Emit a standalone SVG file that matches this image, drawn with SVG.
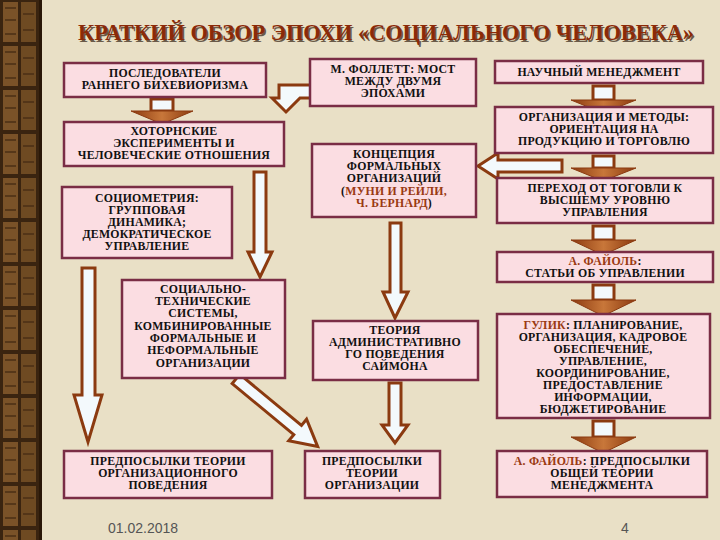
<svg xmlns="http://www.w3.org/2000/svg" width="720" height="540" viewBox="0 0 720 540">
<defs>
<style>
.bg{fill:#e9e0c6}
.box{fill:#fbdde2;stroke:#7a2d45;stroke-width:2.5}
.t{font-family:"Liberation Serif","Times New Roman",serif;font-weight:bold;font-size:11.8px;letter-spacing:0.25px;fill:#111;text-anchor:middle}
.hl{fill:#9a3a12}
.arw{fill:#f3f9fc;stroke:#8b3a10;stroke-width:3;stroke-linejoin:miter}
.head{fill:url(#hg);stroke:#8b3a10;stroke-width:1}
.title{font-family:"Liberation Serif","Times New Roman",serif;font-weight:bold;font-size:22.3px;fill:#8b2a08;text-anchor:middle}
.sh{fill:#6a5a48}
.ft{font-family:"Liberation Sans",Arial,sans-serif;font-size:14px;fill:#555}
</style>
<linearGradient id="hg" x1="0" y1="0" x2="1" y2="0">
<stop offset="0" stop-color="#8b3a10"/>
<stop offset="0.5" stop-color="#c8773a"/>
<stop offset="1" stop-color="#8b3a10"/>
</linearGradient>
<pattern id="wood" width="40" height="44" patternUnits="userSpaceOnUse">
<rect width="40" height="44" fill="#3a2410"/>
<rect x="3" y="2" width="15" height="40" fill="#7a5228"/>
<rect x="21" y="2" width="15" height="40" fill="#6e4a22"/>
<path d="M5 8h11M5 20h11M23 14h11M23 30h11M5 34h11" stroke="#4a2e14" stroke-width="1.5"/>
</pattern>
</defs>
<rect class="bg" width="720" height="540"/>
<rect x="0" y="0" width="39" height="540" fill="url(#wood)"/>
<rect x="39" y="0" width="3" height="540" fill="#2a1808"/>

<text class="title sh" x="387.5" y="41.5">КРАТКИЙ ОБЗОР ЭПОХИ «СОЦИАЛЬНОГО ЧЕЛОВЕКА»</text>
<text class="title" x="386" y="40">КРАТКИЙ ОБЗОР ЭПОХИ «СОЦИАЛЬНОГО ЧЕЛОВЕКА»</text>

<g id="connectors">
<g><rect class="arw" x="151" y="99" width="22" height="12"/><path class="head" d="M131,111 H193 L162,124 Z"/></g>
<path class="arw" d="M311,85 H279 V98 H272 L286,112 L300,98 H311 Z"/>
<g><rect class="arw" x="593" y="86" width="21" height="14"/><path class="head" d="M571,100 H636 L603,113 Z"/></g>
<g><rect class="arw" x="593" y="156" width="21" height="12"/><path class="head" d="M571,168 H636 L603,181 Z"/></g>
<g><rect class="arw" x="593" y="226" width="21" height="14"/><path class="head" d="M571,240 H636 L603,255 Z"/></g>
<g><rect class="arw" x="593" y="285" width="21" height="15"/><path class="head" d="M571,300 H636 L603,316 Z"/></g>
<g><rect class="arw" x="593" y="421" width="21" height="16"/><path class="head" d="M571,437 H636 L603,453 Z"/></g>
<path class="arw" d="M254,172 H266 V252 H272 L260,277 L248,252 H254 Z"/>
<path class="arw" d="M82,268 H95 V395 H102 L88,442 L74,395 H82 Z"/>
<path class="arw" transform="translate(236,379) rotate(39.6)" d="M0,-6 H80 V-14 L106,0 L80,14 V6 H0 Z"/>
<path class="arw" d="M390,223 H401 V292 H408 L395,318 L383,292 H390 Z"/>
<path class="arw" d="M389,383 H401 V425 H408 L395,443 L382,425 H389 Z"/>
<path class="arw" d="M562,160 H498 V153 L478,166 L498,179 V172 H562 Z"/>
</g>

<g id="n1"><rect class="box" x="64" y="63" width="202" height="34"/>
<text class="t"><tspan x="165" y="77">ПОСЛЕДОВАТЕЛИ</tspan><tspan x="165" y="89">РАННЕГО БИХЕВИОРИЗМА</tspan></text></g>
<g id="n2"><rect class="box" x="64" y="122" width="220" height="44"/>
<text class="t"><tspan x="174" y="135">ХОТОРНСКИЕ</tspan><tspan x="174" y="147">ЭКСПЕРИМЕНТЫ И</tspan><tspan x="174" y="159">ЧЕЛОВЕЧЕСКИЕ ОТНОШЕНИЯ</tspan></text></g>
<g id="n3"><rect class="box" x="62" y="187" width="170" height="71"/>
<text class="t"><tspan x="147" y="202">СОЦИОМЕТРИЯ:</tspan><tspan x="147" y="214">ГРУППОВАЯ</tspan><tspan x="147" y="226">ДИНАМИКА;</tspan><tspan x="147" y="238">ДЕМОКРАТИЧЕСКОЕ</tspan><tspan x="147" y="250">УПРАВЛЕНИЕ</tspan></text></g>
<g id="n4"><rect class="box" x="310" y="59" width="166" height="47"/>
<text class="t"><tspan x="393" y="73">М. ФОЛЛЕТТ: МОСТ</tspan><tspan x="393" y="85">МЕЖДУ ДВУМЯ</tspan><tspan x="393" y="97">ЭПОХАМИ</tspan></text></g>
<g id="n5"><rect class="box" x="312" y="144" width="164" height="73"/>
<text class="t"><tspan x="394" y="158">КОНЦЕПЦИЯ</tspan><tspan x="394" y="170">ФОРМАЛЬНЫХ</tspan><tspan x="394" y="182">ОРГАНИЗАЦИЙ</tspan><tspan x="394" y="195">(<tspan class="hl">МУНИ И РЕЙЛИ,</tspan></tspan><tspan x="394" y="207"><tspan class="hl">Ч. БЕРНАРД</tspan>)</tspan></text></g>
<g id="n6"><rect class="box" x="495" y="61" width="208" height="22"/>
<text class="t"><tspan x="599" y="76">НАУЧНЫЙ МЕНЕДЖМЕНТ</tspan></text></g>
<g id="n7"><rect class="box" x="495" y="107" width="218" height="46"/>
<text class="t"><tspan x="604" y="121">ОРГАНИЗАЦИЯ И МЕТОДЫ:</tspan><tspan x="604" y="133">ОРИЕНТАЦИЯ НА</tspan><tspan x="604" y="145">ПРОДУКЦИЮ И ТОРГОВЛЮ</tspan></text></g>
<g id="n8"><rect class="box" x="497" y="178" width="216" height="45"/>
<text class="t"><tspan x="605" y="192">ПЕРЕХОД ОТ ТОГОВЛИ К</tspan><tspan x="605" y="204">ВЫСШЕМУ УРОВНЮ</tspan><tspan x="605" y="216">УПРАВЛЕНИЯ</tspan></text></g>
<g id="n9"><rect class="box" x="497" y="252" width="216" height="30"/>
<text class="t"><tspan x="605" y="265"><tspan class="hl">А. ФАЙОЛЬ</tspan>:</tspan><tspan x="605" y="277">СТАТЬИ ОБ УПРАВЛЕНИИ</tspan></text></g>
<g id="n10"><rect class="box" x="122" y="280" width="163" height="98"/>
<text class="t"><tspan x="203" y="293">СОЦИАЛЬНО-</tspan><tspan x="203" y="305">ТЕХНИЧЕСКИЕ</tspan><tspan x="203" y="317">СИСТЕМЫ,</tspan><tspan x="203" y="330">КОМБИНИРОВАННЫЕ</tspan><tspan x="203" y="342">ФОРМАЛЬНЫЕ И</tspan><tspan x="203" y="354">НЕФОРМАЛЬНЫЕ</tspan><tspan x="203" y="367">ОРГАНИЗАЦИИ</tspan></text></g>
<g id="n11"><rect class="box" x="313" y="321" width="165" height="59"/>
<text class="t"><tspan x="395" y="334">ТЕОРИЯ</tspan><tspan x="395" y="346">АДМИНИСТРАТИВНО</tspan><tspan x="395" y="358">ГО ПОВЕДЕНИЯ</tspan><tspan x="395" y="370">САЙМОНА</tspan></text></g>
<g id="n12"><rect class="box" x="497" y="314" width="213" height="104"/>
<text class="t"><tspan x="603" y="329"><tspan class="hl">ГУЛИК</tspan>: ПЛАНИРОВАНИЕ,</tspan><tspan x="603" y="341">ОРГАНИЗАЦИЯ, КАДРОВОЕ</tspan><tspan x="603" y="353">ОБЕСПЕЧЕНИЕ,</tspan><tspan x="603" y="365">УПРАВЛЕНИЕ,</tspan><tspan x="603" y="377">КООРДИНИРОВАНИЕ,</tspan><tspan x="603" y="389">ПРЕДОСТАВЛЕНИЕ</tspan><tspan x="603" y="401">ИНФОРМАЦИИ,</tspan><tspan x="603" y="413">БЮДЖЕТИРОВАНИЕ</tspan></text></g>
<g id="n13"><rect class="box" x="64" y="451" width="208" height="47"/>
<text class="t"><tspan x="168" y="465">ПРЕДПОСЫЛКИ ТЕОРИИ</tspan><tspan x="168" y="477">ОРГАНИЗАЦИОННОГО</tspan><tspan x="168" y="489">ПОВЕДЕНИЯ</tspan></text></g>
<g id="n14"><rect class="box" x="305" y="451" width="135" height="47"/>
<text class="t"><tspan x="372" y="465">ПРЕДПОСЫЛКИ</tspan><tspan x="372" y="477">ТЕОРИИ</tspan><tspan x="372" y="489">ОРГАНИЗАЦИИ</tspan></text></g>
<g id="n15"><rect class="box" x="497" y="451" width="210" height="46"/>
<text class="t"><tspan x="602" y="465"><tspan class="hl">А. ФАЙОЛЬ</tspan>: ПРЕДПОСЫЛКИ</tspan><tspan x="602" y="477">ОБЩЕЙ ТЕОРИИ</tspan><tspan x="602" y="489">МЕНЕДЖМЕНТА</tspan></text></g>

<text class="ft" x="108" y="533">01.02.2018</text>
<text class="ft" x="621" y="533">4</text>
</svg>
